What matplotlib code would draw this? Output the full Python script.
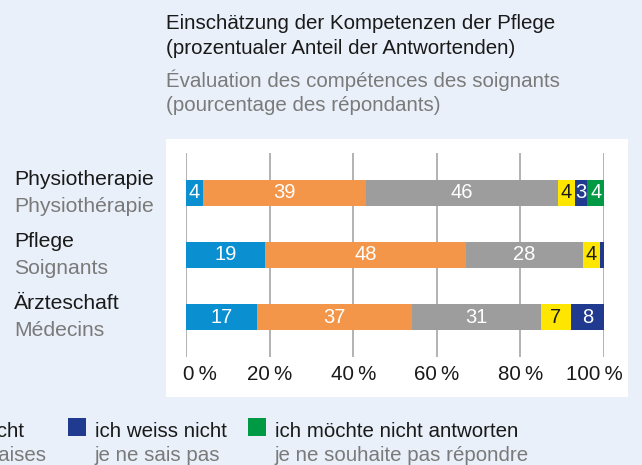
import matplotlib
matplotlib.use('Agg')
import matplotlib.pyplot as plt
import matplotlib.transforms as mtransforms
from matplotlib.patches import Rectangle

# data
groups_de = ['Physiotherapie', 'Pflege', 'Ärzteschaft']
groups_fr = ['Physiothérapie', 'Soignants', 'Médecins']
answers_de = ['sehr gut', 'eher gut', 'eher schlecht', 'schlecht',
              'ich weiss nicht', 'ich möchte nicht antworten']
answers_fr = ['très bonnes', 'plutôt bonnes', 'plutôt mauvaises', 'mauvaises',
              'je ne sais pas', 'je ne souhaite pas répondre']
physio = [4, 39, 46, 4, 3, 4]
pflege = [19, 48, 28, 4, 1, 0]
aerzte = [17, 37, 31, 7, 8, 0]
xticks = [0, 20, 40, 60, 80, 100]
xticklabels = ['0\u2009%', '20\u2009%', '40\u2009%', '60\u2009%', '80\u2009%', '100\u2009%']

colors = ['#0a8fd0', '#f39649', '#9d9d9d', '#ffe600', '#1f3a8f', '#009a44']
text_colors = ['white', 'white', 'white', '#1a1a1a', 'white', 'white']
bg = '#e9f0f9'
dark = '#1a1a1a'
grey_txt = '#7a7a7a'

plt.rcParams['font.family'] = ['Liberation Sans', 'DejaVu Sans']
FS = 14.8

W, H = 642, 465
fig = plt.figure(figsize=(W / 100, H / 100), dpi=100, facecolor=bg)


def px(x, y):
    return x / W, 1 - y / H


# white panel, drawn below the axes
x0, y0 = px(166, 397)
fig.patches.append(Rectangle((x0, y0), (628 - 166) / W, (397 - 139) / H,
                             transform=fig.transFigure, facecolor='white',
                             edgecolor='none', zorder=-5))

# titles
fig.text(*px(166, 29), 'Einschätzung der Kompetenzen der Pflege', fontsize=FS,
         color=dark, va='baseline')
fig.text(*px(166, 54), '(prozentualer Anteil der Antwortenden)', fontsize=FS,
         color=dark, va='baseline')
fig.text(*px(166, 87), 'Évaluation des compétences des soignants', fontsize=FS,
         color=grey_txt, va='baseline')
fig.text(*px(166, 111), '(pourcentage des répondants)', fontsize=FS,
         color=grey_txt, va='baseline')

# axes: 0 % at x=186, 100 % at x=604, gridlines y 153..357
l, b = px(186, 357)
ax = fig.add_axes([l, b, (604 - 186) / W, (357 - 153) / H])
ax.set_facecolor('none')

rows = [physio, pflege, aerzte]
ypos = list(range(len(rows)))
bar_h = 26 / 62
for y, vals in zip(ypos, rows):
    left = 0
    for i, v in enumerate(vals):
        if v > 0:
            ax.barh(y, v, left=left, height=bar_h, color=colors[i],
                    edgecolor='none', zorder=2)
            if v >= 3:
                ax.text(left + v / 2, y, str(v), ha='center', va='center',
                        fontsize=14.5, color=text_colors[i], zorder=3)
        left += v

ax.set_xlim(0, 100)
ax.set_ylim(2.645, -0.645)
ax.set_xticks(xticks)
ax.set_xticklabels(xticklabels, fontsize=FS, color=dark)
ax.set_yticks([])
ax.tick_params(axis='x', length=0, pad=6)
for s in ax.spines.values():
    s.set_visible(False)
ax.grid(axis='x', color='#a6a6a6', linewidth=1.2, zorder=1)
ax.set_axisbelow(True)

# keep the end labels inside the panel
labs = ax.get_xticklabels()
labs[0].set_ha('left')
labs[0].set_transform(labs[0].get_transform() +
                      mtransforms.ScaledTranslation(-0.03, 0, fig.dpi_scale_trans))
labs[-1].set_ha('right')
labs[-1].set_transform(labs[-1].get_transform() +
                       mtransforms.ScaledTranslation(0.19, 0, fig.dpi_scale_trans))

# group labels
trans = mtransforms.blended_transform_factory(fig.transFigure, ax.transData)
for y, de, fr in zip(ypos, groups_de, groups_fr):
    ax.text(14 / W, y - 8 / 62, de, transform=trans, fontsize=15.2, color=dark,
            va='baseline')
    ax.text(14 / W, y + 19 / 62, fr, transform=trans, fontsize=15.2,
            color=grey_txt, va='baseline')

# legend, packed right-to-left from the "ich weiss nicht" item
renderer = fig.canvas.get_renderer()
sq = 18
txt_off = 27
gap = 21
starts = [None] * len(answers_de)
starts[4] = 68
starts[5] = 248
for i in range(3, -1, -1):
    t1 = fig.text(0, 0, answers_de[i], fontsize=FS)
    t2 = fig.text(0, 0, answers_fr[i], fontsize=FS)
    w = max(t1.get_window_extent(renderer).width,
            t2.get_window_extent(renderer).width)
    t1.remove()
    t2.remove()
    starts[i] = starts[i + 1] - gap - w - txt_off

for i in range(len(answers_de)):
    sx = starts[i]
    fig.patches.append(Rectangle(px(sx, 436), sq / W, sq / H,
                                 transform=fig.transFigure,
                                 facecolor=colors[i], edgecolor='none'))
    fig.text(*px(sx + txt_off, 437), answers_de[i], fontsize=FS, color=dark,
             va='baseline')
    fig.text(*px(sx + txt_off, 461), answers_fr[i], fontsize=FS,
             color=grey_txt, va='baseline')

fig.savefig('out.png', dpi=100, facecolor=bg)
